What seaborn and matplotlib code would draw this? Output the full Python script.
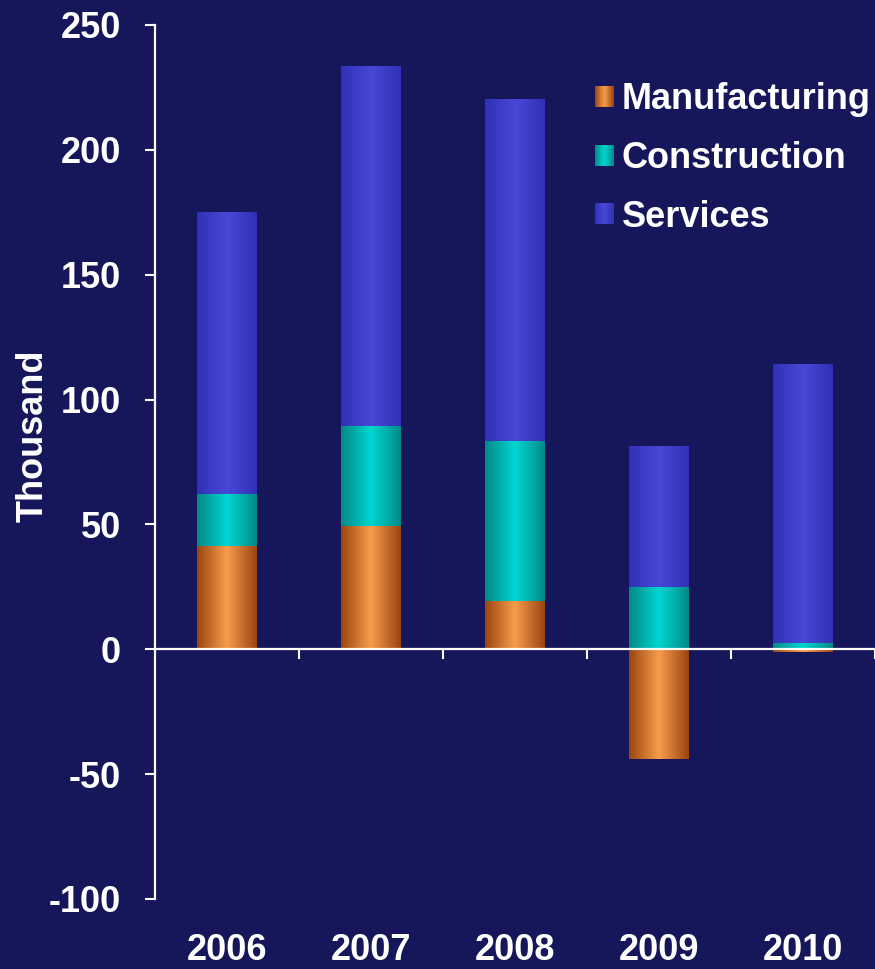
import numpy as np
import pandas as pd
import matplotlib
matplotlib.use("Agg")
import matplotlib.pyplot as plt
import seaborn as sns
from matplotlib.colors import LinearSegmentedColormap
from matplotlib.legend_handler import HandlerBase
from matplotlib.patches import Rectangle

# ---- data (thousand jobs) ----
years = ["2006", "2007", "2008", "2009", "2010"]
manufacturing = [41.3, 49.5, 19.2, -44.0, -1.0]
construction = [20.8, 39.8, 64.1, 24.8, 2.4]
services = [112.8, 143.9, 136.7, 56.1, 111.4]
series_names = ["Manufacturing", "Construction", "Services"]
y_ticks = [-100, -50, 0, 50, 100, 150, 200, 250]

BG = "#16165a"
# (edge colour, centre colour) for the cylinder-like shading of each bar
shades = {
    "Manufacturing": ("#9a4510", "#f89c4c"),
    "Construction": ("#008a88", "#00d6d0"),
    "Services": ("#3030b8", "#4848d6"),
}


def shade_cmap(name):
    edge, centre = shades[name]
    return LinearSegmentedColormap.from_list(
        name, [(0.0, edge), (0.5, centre), (1.0, edge)])


sns.set_theme(style="white", rc={
    "figure.facecolor": BG,
    "axes.facecolor": BG,
    "savefig.facecolor": BG,
    "text.color": "white",
    "axes.labelcolor": "white",
    "xtick.color": "white",
    "ytick.color": "white",
})
plt.rcParams["font.family"] = ["Liberation Sans", "DejaVu Sans"]
plt.rcParams["font.weight"] = "bold"

df = pd.DataFrame({"year": years, "Manufacturing": manufacturing,
                   "Construction": construction, "Services": services})

fig, ax = plt.subplots(figsize=(8.75, 9.69), dpi=100)
fig.subplots_adjust(left=155 / 875, right=1.0,
                    bottom=1 - 899 / 969, top=1 - 25 / 969)

# positives stack upward from zero, negatives stack downward
pos_base = np.zeros(len(years))
neg_base = np.zeros(len(years))
grad = np.linspace(0, 1, 256)[None, :]

for name in series_names:
    vals = df[name].to_numpy(dtype=float)
    bottom = np.where(vals >= 0, pos_base, neg_base)
    n_before = len(ax.patches)
    sns.barplot(x=years, y=vals, order=years, bottom=bottom,
                color=shades[name][1], saturation=1, width=0.41,
                linewidth=0, errorbar=None, ax=ax, zorder=1)
    cmap = shade_cmap(name)
    for patch in ax.patches[n_before:]:
        x0, y0 = patch.get_x(), patch.get_y()
        w, h = patch.get_width(), patch.get_height()
        if h == 0:
            continue
        ax.imshow(grad, cmap=cmap, aspect="auto", interpolation="bilinear",
                  extent=(x0, x0 + w, min(y0, y0 + h), max(y0, y0 + h)),
                  zorder=1.5)
    pos_base = pos_base + np.where(vals >= 0, vals, 0)
    neg_base = neg_base + np.where(vals < 0, vals, 0)

ax.set_xlim(-0.5, len(years) - 0.5)
ax.set_ylim(y_ticks[0], y_ticks[-1])

# y axis
ax.set_yticks(y_ticks)
ax.set_yticklabels([str(t) for t in y_ticks], fontsize=26, fontweight="bold")
ax.tick_params(axis="y", direction="out", length=7.5, width=1.5,
               color="white", pad=17, left=True)
ax.set_ylabel("Thousand", fontsize=26, fontweight="bold", color="white")
ax.yaxis.set_label_coords(-0.145, 0.53)

# x axis line sits at zero, with tick marks between the years
ax.spines["bottom"].set_position(("data", 0))
ax.set_xticks(np.arange(len(years)) + 0.5)
ax.set_xticklabels([""] * len(years))
ax.tick_params(axis="x", direction="out", length=7.5, width=1.5,
               color="white", bottom=True)
ax.set_xlabel("")
for side in ("top", "right"):
    ax.spines[side].set_visible(False)
for side in ("left", "bottom"):
    ax.spines[side].set_color("white")
    ax.spines[side].set_linewidth(1.6)
    ax.spines[side].set_zorder(3)

# year labels along the bottom of the plot
sec = ax.secondary_xaxis("bottom")
sec.set_xticks(np.arange(len(years)))
sec.set_xticklabels(years, fontsize=26, fontweight="bold", color="white")
sec.tick_params(length=0, pad=24.5)
sec.spines["bottom"].set_visible(False)


class GradientSwatch(HandlerBase):
    def __init__(self, cmap, strips=24):
        super().__init__()
        self.cmap = cmap
        self.strips = strips

    def create_artists(self, legend, orig_handle, xdescent, ydescent,
                       width, height, fontsize, trans):
        arts = []
        for i in range(self.strips):
            c = self.cmap((i + 0.5) / self.strips)
            arts.append(Rectangle((-xdescent + width * i / self.strips, -ydescent),
                                  width / self.strips * 1.08, height,
                                  facecolor=c, edgecolor="none", transform=trans))
        return arts


handles = [Rectangle((0, 0), 1, 1) for _ in series_names]
handler_map = {h: GradientSwatch(shade_cmap(n)) for h, n in zip(handles, series_names)}
fig.legend(handles, series_names, handler_map=handler_map,
           loc="upper left", bbox_to_anchor=(595 / 875, 1 - 82 / 969),
           bbox_transform=fig.transFigure, frameon=False,
           prop={"weight": "bold", "size": 26}, labelcolor="white",
           handlelength=0.52, handleheight=0.52, handletextpad=0.22,
           labelspacing=0.66, borderpad=0, borderaxespad=0)

fig.savefig("out.png", dpi=100, facecolor=BG)
